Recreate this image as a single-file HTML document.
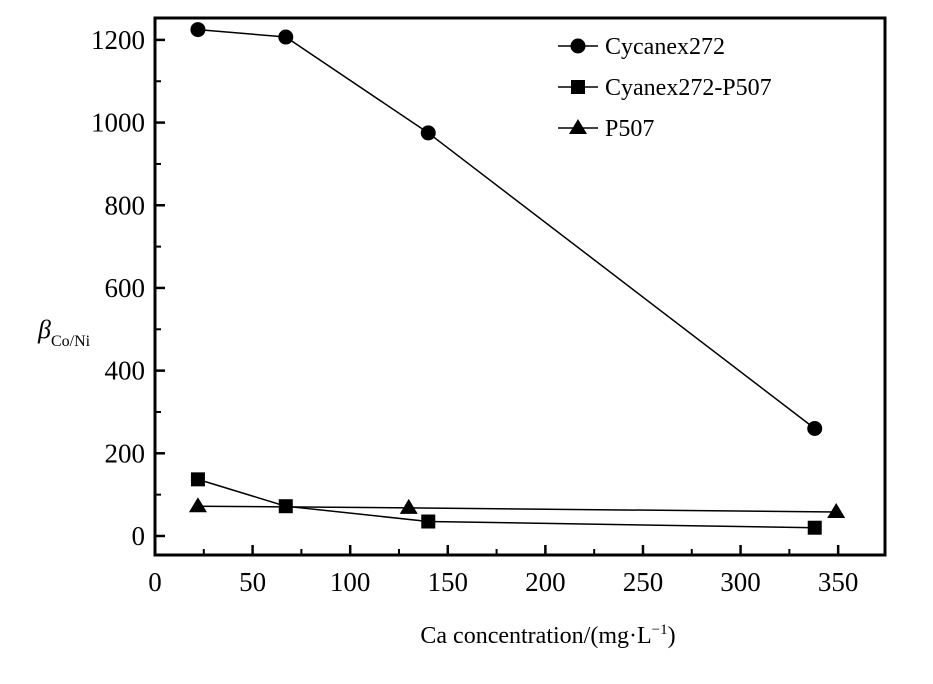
<!DOCTYPE html>
<html><head><meta charset="utf-8"><style>
body{margin:0;background:#fff}
svg{display:block;font-family:"Liberation Serif",serif}
</style></head><body>
<svg width="933" height="684">
<g id="axes"></g><g id="plot"></g><g id="legend"></g>
<text x="548" y="643" font-size="24" text-anchor="middle">Ca concentration/(mg·L<tspan dy="-9" font-size="15">−1</tspan><tspan dy="9">)</tspan></text>
<text x="38" y="338" font-size="26" font-style="italic">β<tspan dy="8" font-size="16" font-style="normal">Co/Ni</tspan></text>
</svg>
<script>
const xTicks=[0,50,100,150,200,250,300,350];
const yTicks=[0,200,400,600,800,1000,1200];
const seriesNames=["Cycanex272","Cyanex272-P507","P507"];
const cycX=[22,67,140,338];
const cycY=[1225,1207,975,260];
const sqX=[22,67,140,338];
const sqY=[137,72,35,20];
const triX=[22,130,349];
const triY=[72,68,58];
const NS="http://www.w3.org/2000/svg";
const L=155,R=885,T=18,B=555;
const xMin=0,xMax=374,yMin=-46,yMax=1253;
const sx=v=>L+(v-xMin)/(xMax-xMin)*(R-L);
const sy=v=>B-(v-yMin)/(yMax-yMin)*(B-T);
function mk(tag,a,parent){const e=document.createElementNS(NS,tag);for(const k in a)e.setAttribute(k,a[k]);document.getElementById(parent).appendChild(e);return e;}
let f=mk('rect',{x:L,y:T,width:R-L,height:B-T,fill:'none',stroke:'#000','stroke-width':3},'axes');


xTicks.forEach(v=>{
 let t=mk('line',{x1:sx(v),x2:sx(v),y1:B,y2:B-10,stroke:'#000','stroke-width':2.5},'axes');
 
 
 if(v+25<xMax){
 let m=mk('line',{x1:sx(v+25),x2:sx(v+25),y1:B,y2:B-6,stroke:'#000','stroke-width':2},'axes');
 
 
 }
 let l=mk('text',{x:sx(v),y:B+36,'font-size':27,'text-anchor':'middle'},'axes');l.textContent=v;
 
 
});
yTicks.forEach(v=>{
 let t=mk('line',{x1:L,x2:L+10,y1:sy(v),y2:sy(v),stroke:'#000','stroke-width':2.5},'axes');
 
 
 let m=mk('line',{x1:L,x2:L+6,y1:sy(v+100),y2:sy(v+100),stroke:'#000','stroke-width':2},'axes');
 
 
 let l=mk('text',{x:L-10,y:sy(v)+9,'font-size':27,'text-anchor':'end'},'axes');l.textContent=v;
 
 
});
function marker(type,cx,cy,parent,name){
 let e;
 if(type==='c')e=mk('circle',{cx:cx,cy:cy,r:7.5},parent);
 else if(type==='s')e=mk('rect',{x:cx-7,y:cy-7,width:14,height:14},parent);
 else e=mk('polygon',{points:`${cx},${cy-9} ${cx-9},${cy+6} ${cx+9},${cy+6}`},parent);
 
 
}
function series(xs,ys,type,name){
 let p=mk('polyline',{points:xs.map((x,i)=>sx(x)+','+sy(ys[i])).join(' '),fill:'none',stroke:'#000','stroke-width':1.5},'plot');
 
 
 xs.forEach((x,i)=>marker(type,sx(x),sy(ys[i]),'plot',name+'-point'));
}
series(triX,triY,'t','p507');
series(sqX,sqY,'s','cyanex272-p507');
series(cycX,cycY,'c','cycanex272');
const types=['c','s','t'];
seriesNames.forEach((n,i)=>{
 const y=46+i*41;
 let ln=mk('line',{x1:558,x2:598,y1:y,y2:y,stroke:'#000','stroke-width':1.5},'legend');
 
 
 marker(types[i],578,y,'legend','legend-marker');
 let t=mk('text',{x:605,y:y+8,'font-size':24},'legend');t.textContent=n;
 
 
});
</script>
</body></html>
